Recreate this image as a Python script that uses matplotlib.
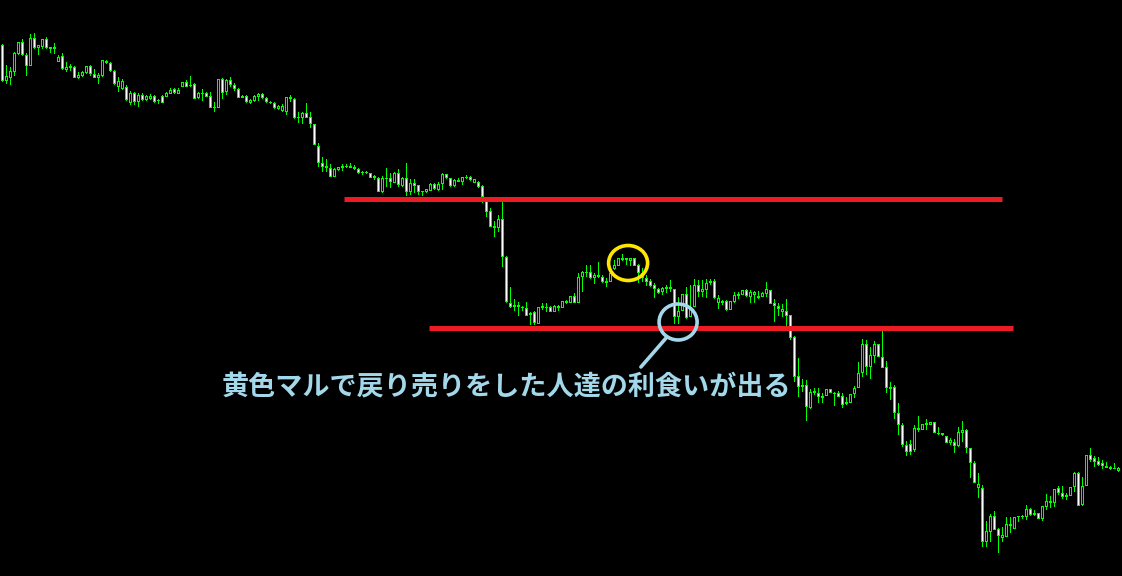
import numpy as np
import matplotlib
matplotlib.use("Agg")
import matplotlib.pyplot as plt
from matplotlib.patches import Rectangle, Ellipse
from matplotlib.collections import PatchCollection

opens = [555,519,522,528,546,558,545,534,562,552,
         553,561,551,553,538,544,530,532,533,522,
         524,527,534,526,522,524,539,537,529,513,
         511,513,497,507,498,505,500,501,504,499,
         504,503,506,511,506,513,518,514,516,502,
         506,507,504,492,492,521,508,520,515,511,
         502,504,497,499,503,506,502,497,497,491,
         489,488,503,501,482,482,487,483,476,454,
         437,432,432,423,430,432,433,434,433,431,
         427,428,427,422,422,408,421,422,417,427,
         414,422,408,417,415,408,408,409,416,410,
         416,426,422,414,418,418,422,423,417,418,
         414,401,389,372,372,381,343,297,293,293,
         292,292,285,288,276,294,292,293,288,292,
         292,297,297,304,297,323,327,328,322,323,
         323,317,318,331,334,340,342,339,342,335,
         327,322,319,315,311,308,311,311,311,283,
         289,306,283,293,315,308,310,317,319,297,
         299,299,290,298,304,305,310,303,305,304,
         303,306,310,297,294,288,289,285,263,224,
         213,215,192,207,207,202,204,211,206,207,
         204,196,197,206,212,227,256,233,244,256,
         243,233,211,213,187,175,155,156,150,170,
         170,175,175,178,166,165,164,157,158,154,
         167,170,152,137,112,112,58,68,84,71,
         62,63,74,71,83,83,83,91,87,87,
         81,93,99,97,112,107,103,104,113,127,
         95,114,145,142,139,137,132,131,131,129]

highs = [556,535,533,548,558,561,547,566,567,555,
         561,563,553,557,545,547,538,536,534,528,
         529,534,535,531,527,540,540,538,530,523,
         521,515,509,508,507,507,505,506,505,501,
         505,508,512,512,512,518,520,524,517,508,
         511,508,508,498,521,522,521,523,517,512,
         505,505,501,505,507,507,503,499,498,495,
         496,503,505,502,488,488,497,488,476,457,
         443,441,436,432,433,436,436,437,435,432,
         429,429,427,425,423,424,432,427,428,431,
         423,437,421,421,415,409,411,417,417,418,
         427,426,422,421,422,423,425,424,421,419,
         415,403,392,379,385,399,344,313,301,298,
         294,298,288,289,293,297,297,294,295,295,
         299,300,304,307,327,329,335,335,327,338,
         325,322,327,340,342,346,342,342,342,336,
         332,325,321,317,312,313,315,320,311,303,
         306,313,315,321,320,320,321,321,321,305,
         300,300,299,308,308,310,311,310,309,309,
         308,318,310,301,297,296,301,285,264,242,
         221,220,211,212,212,207,211,211,208,209,
         207,203,206,214,238,261,260,253,259,256,
         270,239,218,215,197,177,159,160,175,184,
         176,181,178,178,173,167,164,162,161,173,
         179,171,152,139,127,115,79,86,89,72,
         73,83,83,83,84,85,95,92,90,87,
         94,106,104,111,114,114,107,113,128,128,
         123,145,152,144,143,140,138,134,137,133]

lows = [518,516,515,524,545,544,524,534,551,545,
        551,551,547,546,538,530,528,529,522,521,
        523,526,524,522,516,523,536,528,515,508,
        510,499,495,495,493,499,499,500,497,496,
        497,503,506,506,506,513,513,513,501,501,
        499,503,492,488,492,501,505,513,509,502,
        502,497,496,498,499,501,497,496,491,490,
        488,485,498,481,477,476,482,472,455,433,
        428,428,423,423,429,429,432,432,430,426,
        425,426,422,420,408,407,413,412,417,413,
        413,404,405,407,405,404,407,409,410,409,
        410,421,413,413,418,415,421,419,417,412,
        397,383,373,363,368,333,297,292,289,284,
        289,284,275,275,276,290,288,288,288,289,
        292,296,297,297,297,308,323,321,316,322,
        317,313,318,330,334,339,335,334,334,317,
        318,314,313,302,306,305,307,308,276,276,
        289,281,283,293,303,303,302,315,301,291,
        295,289,290,297,301,305,303,297,297,301,
        303,303,296,278,284,283,272,260,218,203,
        208,179,191,205,197,197,204,207,194,203,
        192,195,197,202,212,223,225,221,237,243,
        232,207,200,181,165,153,144,145,148,168,
        170,170,175,167,165,164,157,155,147,153,
        158,147,122,117,102,53,53,58,70,47,
        58,63,67,71,78,81,80,84,84,81,
        79,90,92,93,105,101,100,104,108,94,
        94,114,138,133,134,131,132,130,131,128]

closes = [519,524,529,547,558,545,534,562,552,555,
          561,552,553,551,543,531,533,534,522,525,
          528,534,526,522,525,540,537,529,516,519,
          519,500,507,498,505,500,504,504,498,500,
          497,507,510,507,510,518,513,515,501,507,
          507,503,492,493,521,507,520,515,511,502,
          504,498,500,504,506,502,498,498,492,494,
          494,503,501,482,483,487,482,476,455,437,
          433,434,423,431,433,434,434,432,431,427,
          428,427,422,424,408,422,422,418,427,415,
          422,408,417,414,408,409,411,416,411,416,
          426,422,414,420,420,423,423,420,421,413,
          403,388,373,374,381,343,298,293,295,295,
          293,284,287,277,293,292,293,288,294,294,
          299,299,304,297,323,328,328,322,325,325,
          318,319,327,335,342,342,340,342,334,327,
          322,318,314,311,307,312,313,313,283,289,
          306,282,293,315,308,311,317,319,302,302,
          297,290,299,305,306,310,304,308,308,302,
          307,311,296,294,291,291,284,262,223,213,
          215,193,208,209,203,204,211,207,207,203,
          195,198,206,212,227,256,233,245,256,243,
          232,212,213,187,175,155,148,148,172,172,
          176,177,178,167,167,167,157,160,154,168,
          170,152,137,117,116,58,69,84,70,64,
          65,76,76,83,84,84,91,85,85,81,
          94,99,97,111,107,103,105,113,127,94,
          114,145,140,138,135,134,134,133,132,132]

upper_level = 401.5
lower_level = 272.5
label = "黄色マルで戻り売りをした人達の利食いが出る"

GREEN = "#00ff00"
RED = "#ed1c24"
YELLOW = "#ffe600"
LBLUE = "#a3d8ea"

fig = plt.figure(figsize=(11.22, 5.76), dpi=100, facecolor="black")
ax = fig.add_axes([0, 0, 1, 1])
ax.set_facecolor("black")
ax.axis("off")
ax.set_xlim(-0.625, 279.875)
ax.set_ylim(24, 600)

n = len(opens)
xs = np.arange(n)

green_rects = []
inner_rects, inner_faces = [], []
for x, o, h, l, c in zip(xs, opens, highs, lows, closes):
    # wick: 1 px wide
    green_rects.append(Rectangle((x - 0.125, l), 0.25, max(h - l, 1)))
    lo, hi = min(o, c), max(o, c)
    if hi - lo < 1:
        hi = lo + 1
    # body outline: 3 px wide
    green_rects.append(Rectangle((x - 0.375, lo), 0.75, hi - lo))
    if hi - lo >= 3:
        inner_rects.append(Rectangle((x - 0.125, lo + 1), 0.25, hi - lo - 2))
        inner_faces.append("white" if c < o else "black")

ax.add_collection(PatchCollection(green_rects, facecolors=GREEN, edgecolors="none",
                                  linewidths=0, antialiased=False, zorder=2))
ax.add_collection(PatchCollection(inner_rects, facecolors=inner_faces,
                                  edgecolors="none", linewidths=0,
                                  antialiased=False, zorder=3))

ax.plot([85.4, 249.9], [upper_level, upper_level], color=RED, lw=3.6,
        solid_capstyle="butt", zorder=4)
ax.plot([106.6, 252.6], [lower_level, lower_level], color=RED, lw=3.6,
        solid_capstyle="butt", zorder=4)

ax.add_patch(Ellipse((156.4, 337), 9.75, 35, fill=False, edgecolor=YELLOW,
                     lw=2.6, zorder=5))
ax.add_patch(Ellipse((168.9, 278), 9.5, 36, fill=False, edgecolor=LBLUE,
                     lw=2.6, zorder=5))
ax.plot([165.9, 159.6], [262, 233], color=LBLUE, lw=2.6,
        solid_capstyle="round", zorder=5)

ax.text(125.9, 214, label, color=LBLUE, fontsize=19.5, fontweight="bold",
        family=["Noto Sans CJK JP", "DejaVu Sans"], ha="center", va="center",
        zorder=6)

fig.savefig("out.png", dpi=100, facecolor="black")
